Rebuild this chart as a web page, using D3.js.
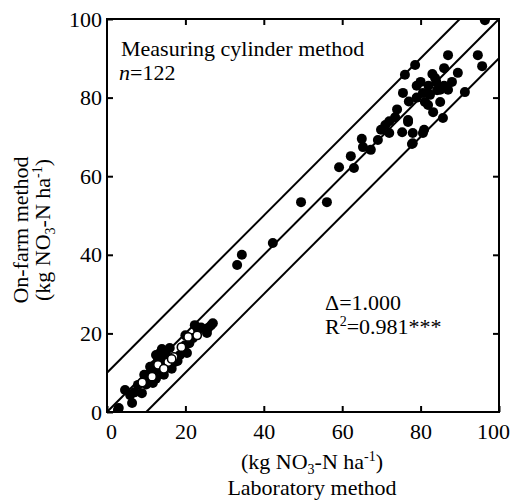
<!DOCTYPE html>
<html>
<head>
<meta charset="utf-8">
<script src="https://cdn.jsdelivr.net/npm/d3@7"></script>
<style>
  body { margin: 0; background: #fff; }
</style>
</head>
<body>
<div id="chart"></div>
<script>
var width = 512;
var height = 500;
var margin = {top: 19, right: 13, bottom: 88, left: 107};
var w = width - margin.left - margin.right;
var h = height - margin.top - margin.bottom;
var serif = "Liberation Serif";

// data: [laboratory, on-farm]
var highPoints = [
  [96.4, 99.7], [87, 90.8], [94.6, 90.8], [95.7, 88], [89.5, 86.3], [86, 87.5],
  [83.7, 85], [91.3, 81.4], [78.6, 88.3], [76, 85.8], [75.5, 81.2], [80.6, 81.2],
  [82.4, 80.7], [84.2, 81.9], [81.9, 78.1], [85, 78.9], [83.2, 76.3], [85.7, 74.8],
  [81.1, 78.9], [76.8, 74.3], [78, 71], [80.6, 71], [78, 68.4], [75.3, 71.2],
  [76.8, 73.8], [77.8, 68.2], [80.9, 71.8], [73.5, 75], [72, 74], [74, 77],
  [79, 83], [80, 84], [82, 83], [83, 86], [84, 84], [85, 82], [86, 83],
  [79, 80], [77, 79], [88, 84], [87, 82]
];
var midPoints = [
  [69.9, 71.8], [69.1, 69.2], [65, 69.5], [65.3, 67.4], [67.3, 66.7], [62.2, 65.1],
  [59.2, 62.3], [63, 62.1], [71, 73], [72, 71], [49.5, 53.4], [56.1, 53.4],
  [42.3, 43], [34.4, 40], [33.2, 37.4]
];
var lowPoints = [
  [2.8, 0.5], [3, 1], [4.6, 5.6], [6.4, 2.3], [5.9, 4.3], [7, 5], [7.9, 6.9],
  [8.9, 4.8], [10.2, 8.1], [10, 7], [11, 9.9], [11.7, 7.4], [12.2, 12], [12, 10],
  [13, 13.2], [14, 14], [13.5, 10.7], [14.8, 12.5], [15.3, 14], [16, 16.3],
  [17.3, 12.7], [18.6, 14.5], [19.9, 17], [20.4, 15], [22.4, 22.1], [23.2, 20.9],
  [21.9, 18.8], [25.8, 21.4], [27, 22.6], [25.5, 20.1], [13.5, 15], [14.5, 9.5],
  [11, 11.5], [9.5, 9.5], [16.5, 11], [15, 15.5], [12.5, 8.5], [20, 19.5],
  [18, 13], [21, 17.5], [24, 21.5], [26.5, 22], [14, 16], [12.5, 14.5]
];
var openPoints = [
  [13, 12], [15.6, 12.7], [17, 14], [11.5, 9], [14.5, 11], [19, 16.5],
  [23, 19.5], [16.5, 13.5], [9, 7.5], [20.7, 19.1]
];
// 1:1 line and +/- 10 lines
var lineOffsets = [0, 10, -10];
var tickValues = [0, 20, 40, 60, 80, 100];

var svg = d3.select("#chart").append("svg")
  .attr("width", width)
  .attr("height", height);

var g = svg.append("g")
  .attr("transform", "translate(" + margin.left + "," + margin.top + ")");

var xScale = d3.scaleLinear().domain([0, 100]).range([0, w]);
var yScale = d3.scaleLinear().domain([0, 100]).range([h, 0]);

g.append("clipPath").attr("id", "clip")
  .append("rect").attr("width", w).attr("height", h);

// reference lines
var line = d3.line()
  .x(function(d) { return xScale(d[0]); })
  .y(function(d) { return yScale(d[1]); });
lineOffsets.forEach(function(off) {
  var x0 = Math.max(0, -off), x1 = Math.min(100, 100 - off);
  g.append("path")
    .attr("d", line([[x0, x0 + off], [x1, x1 + off]]))
    .attr("fill", "none")
    .attr("stroke", "#000")
    .attr("stroke-width", 2);
});

var allFilled = highPoints.concat(midPoints, lowPoints);
g.append("g").attr("clip-path", "url(#clip)")
  .selectAll("circle.f")
  .data(allFilled)
  .enter().append("circle")
  .attr("class", "f")
  .attr("cx", function(d) { return xScale(d[0]); })
  .attr("cy", function(d) { return yScale(d[1]); })
  .attr("r", 5)
  .style("fill", "#000");

g.selectAll("circle.o")
  .data(openPoints)
  .enter().append("circle")
  .attr("class", "o")
  .attr("cx", function(d) { return xScale(d[0]); })
  .attr("cy", function(d) { return yScale(d[1]); })
  .attr("r", 4.2)
  .style("fill", "#fff")
  .style("stroke", "#000")
  .style("stroke-width", 1.6);

// axes, ticks pointing inward on all four sides
var fs = "22px";
function styleAxis(sel) {
  sel.attr("font-family", serif);
  sel.select(".domain").remove();
  sel.selectAll("line").attr("stroke", "#000").attr("stroke-width", 2);
  sel.selectAll("text").style("font-size", fs).style("font-family", serif).style("fill", "#000");
}
var xAxis = g.append("g").attr("transform", "translate(0," + h + ")")
  .call(d3.axisBottom(xScale).tickValues(tickValues).tickSizeInner(-6).tickSizeOuter(0).tickPadding(11))
  .call(styleAxis);
// nudge the end labels inward like the original
xAxis.selectAll("text").attr("dx", function(d) { return d === 0 ? 4 : (d === 100 ? -6 : 0); });

g.append("g")
  .call(d3.axisLeft(yScale).tickValues(tickValues).tickSizeInner(-6).tickSizeOuter(0).tickPadding(5))
  .call(styleAxis);
g.append("g")
  .call(d3.axisTop(xScale).tickValues(tickValues.slice(1, 5)).tickSizeInner(-6).tickSizeOuter(0).tickFormat(""))
  .call(styleAxis);
g.append("g").attr("transform", "translate(" + w + ",0)")
  .call(d3.axisRight(yScale).tickValues(tickValues.slice(1, 5)).tickSizeInner(-6).tickSizeOuter(0).tickFormat(""))
  .call(styleAxis);

g.append("rect")
  .attr("width", w).attr("height", h)
  .attr("fill", "none")
  .attr("stroke", "#000")
  .attr("stroke-width", 2);

// annotations
function txt(parent, x, y) {
  return parent.append("text").attr("x", x).attr("y", y)
    .style("font-size", fs).style("font-family", serif).style("fill", "#000");
}
txt(g, 14, 37).text("Measuring cylinder method");
var nt = txt(g, 12, 61);
nt.append("tspan").style("font-style", "italic").text("n");
nt.append("tspan").text("=122");

txt(g, 218, 291).text("\u0394=1.000");
var rt = txt(g, 218, 315);
rt.append("tspan").text("R");
rt.append("tspan").attr("dy", -8).style("font-size", "14px").text("2");
rt.append("tspan").attr("dy", 8).text("=0.981***");

// unit label builder
function unitLabel(sel) {
  sel.append("tspan").text("(kg NO");
  sel.append("tspan").attr("dy", 5).style("font-size", "14px").text("3");
  sel.append("tspan").attr("dy", -5).text("-N ha");
  sel.append("tspan").attr("dy", -8).style("font-size", "14px").text("-1");
  sel.append("tspan").attr("dy", 8).text(")");
}

unitLabel(txt(svg, 312, 469).attr("text-anchor", "middle"));
txt(svg, 312, 495).attr("text-anchor", "middle").text("Laboratory method");

var yl = svg.append("g").attr("transform", "translate(28,230) rotate(-90)");
txt(yl, 0, 0).attr("text-anchor", "middle").text("On-farm method");
unitLabel(txt(yl, 0, 22).attr("text-anchor", "middle"));
</script>
</body>
</html>
